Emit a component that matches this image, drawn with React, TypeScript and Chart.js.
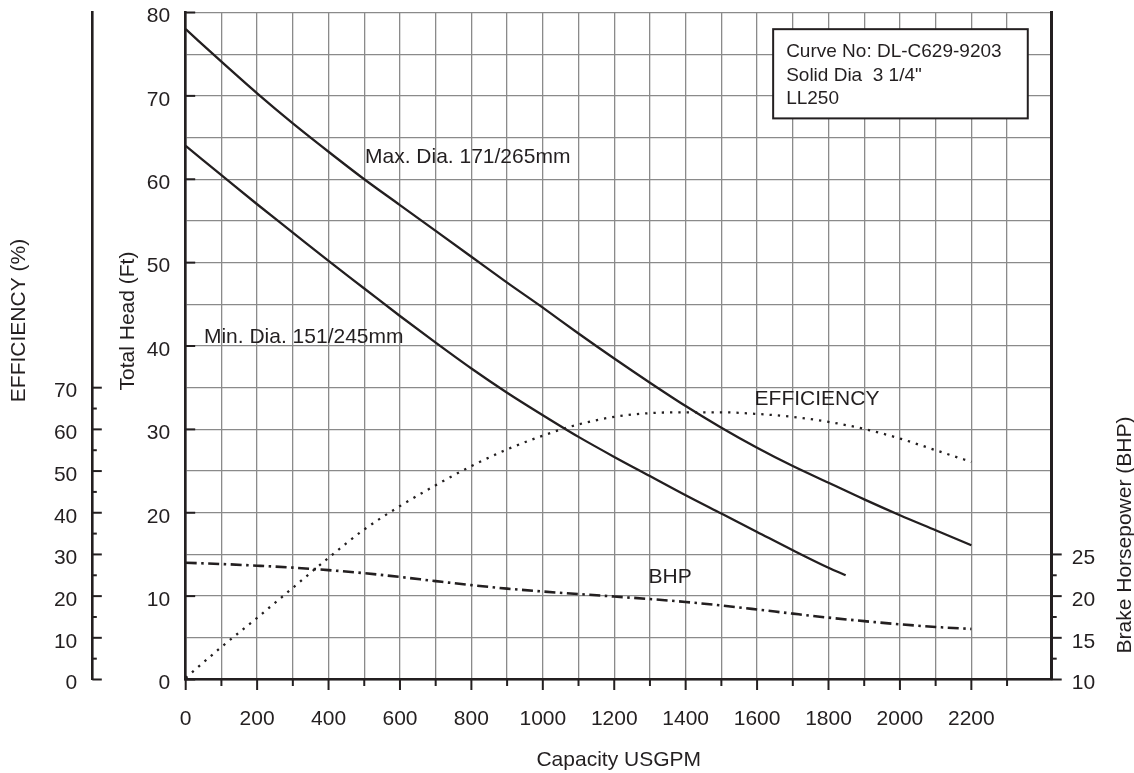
import React, { useEffect, useRef } from "react";
import { Chart, registerables } from "chart.js";

Chart.register(...registerables);

// ---------- data ----------
const capacity = [0, 100, 200, 300, 400, 500, 600, 700, 800, 900, 1000, 1100, 1200, 1300, 1400, 1500, 1600, 1700, 1800, 1900, 2000, 2100, 2200];
const maxDiaHead = [78.0, 74.1, 70.3, 66.7, 63.3, 60.0, 56.9, 53.8, 50.7, 47.6, 44.6, 41.5, 38.5, 35.6, 32.8, 30.2, 27.8, 25.6, 23.6, 21.6, 19.7, 17.9, 16.1];
const minDiaCapacity = [0, 100, 200, 300, 400, 500, 600, 700, 800, 900, 1000, 1100, 1200, 1300, 1400, 1500, 1600, 1700, 1800, 1848];
const minDiaHead = [64.0, 60.5, 57.0, 53.6, 50.2, 46.9, 43.6, 40.4, 37.3, 34.4, 31.7, 29.1, 26.7, 24.4, 22.1, 19.9, 17.7, 15.5, 13.4, 12.5];
const efficiencyPct = [0.4, 7.8, 14.8, 22.0, 29.2, 36.0, 41.6, 46.6, 51.2, 55.2, 58.5, 61.2, 63.0, 63.9, 64.1, 64.1, 63.7, 63.0, 61.8, 60.1, 57.8, 55.0, 52.2];
const bhpValues = [24.0, 23.85, 23.65, 23.42, 23.12, 22.75, 22.3, 21.8, 21.32, 20.9, 20.55, 20.25, 19.95, 19.65, 19.3, 18.88, 18.4, 17.9, 17.42, 17.0, 16.62, 16.3, 16.06];

const capacityLabels = [0, 200, 400, 600, 800, 1000, 1200, 1400, 1600, 1800, 2000, 2200];
const headLabels = [0, 10, 20, 30, 40, 50, 60, 70, 80];
const efficiencyLabels = [0, 10, 20, 30, 40, 50, 60, 70];
const bhpLabels = [10, 15, 20, 25];

const curveNotes = [
  { text: "Max. Dia. 171/265mm", x: 502, y: 62.0 },
  { text: "Min. Dia. 151/245mm", x: 51, y: 40.4 },
  { text: "EFFICIENCY", x: 1593, y: 32.9 },
  { text: "BHP", x: 1296, y: 11.6 },
];
const infoLines = ["Curve No: DL-C629-9203", "Solid Dia  3 1/4\"", "LL250"];

// ---------- styling ----------
const FONT = '"Liberation Sans", Arial, Helvetica, sans-serif';
const INK = "#231f20";
const GRID = "#8a8a8a";

const W = 1134;
const H = 773;

function zeroPad(scale: any) {
  scale.paddingTop = 0;
  scale.paddingBottom = 0;
  scale.paddingLeft = 0;
  scale.paddingRight = 0;
}

const decor = {
  id: "decor",
  afterDraw(chart: any) {
    const ctx = chart.ctx as CanvasRenderingContext2D;
    const { x, y, eff, bhp } = chart.scales;
    const area = chart.chartArea;
    const seg = (x1: number, y1: number, x2: number, y2: number) => {
      ctx.beginPath();
      ctx.moveTo(x1, y1);
      ctx.lineTo(x2, y2);
      ctx.stroke();
    };
    ctx.save();
    ctx.strokeStyle = INK;
    ctx.lineWidth = 2;
    for (const v of headLabels) {
      const py = y.getPixelForValue(v);
      seg(area.left, py, area.left + 9.5, py);
    }
    for (let v = 0; v <= 70; v += 5) {
      const py = eff.getPixelForValue(v);
      seg(eff.right, py, eff.right + (v % 10 === 0 ? 9.5 : 4.5), py);
    }
    for (let v = 10; v <= 25; v += 2.5) {
      const py = bhp.getPixelForValue(v);
      seg(bhp.left, py, bhp.left + (v % 5 === 0 ? 10 : 5), py);
    }
    for (let v = 0; v <= 2300; v += 100) {
      const px = x.getPixelForValue(v);
      seg(px, area.bottom, px, area.bottom + (v % 200 === 0 ? 10.5 : 6.5));
    }

    ctx.fillStyle = INK;
    ctx.font = `21px ${FONT}`;
    ctx.textAlign = "left";
    ctx.textBaseline = "alphabetic";
    for (const n of curveNotes) {
      ctx.fillText(n.text, x.getPixelForValue(n.x), y.getPixelForValue(n.y));
    }

    const bx1 = x.getPixelForValue(1645);
    const bx2 = x.getPixelForValue(2358);
    const by1 = y.getPixelForValue(78.0);
    const by2 = y.getPixelForValue(67.3);
    ctx.fillStyle = "#ffffff";
    ctx.fillRect(bx1, by1, bx2 - bx1, by2 - by1);
    ctx.lineWidth = 2;
    ctx.strokeStyle = INK;
    ctx.strokeRect(bx1, by1, bx2 - bx1, by2 - by1);
    ctx.fillStyle = INK;
    ctx.font = `19px ${FONT}`;
    infoLines.forEach((t, i) => {
      ctx.fillText(t, bx1 + 13, by1 + 28 + i * 23.6);
    });

    ctx.font = `21px ${FONT}`;
    ctx.textAlign = "center";
    ctx.textBaseline = "middle";
    const vtitle = (t: string, cx: number, cy: number) => {
      ctx.save();
      ctx.translate(cx, cy);
      ctx.rotate(-Math.PI / 2);
      ctx.fillText(t, 0, 0);
      ctx.restore();
    };
    vtitle("EFFICIENCY (%)", 19, 320.5);
    vtitle("Total Head (Ft)", 128.5, 321);
    vtitle("Brake Horsepower (BHP)", 1125, 535);
    ctx.fillText("Capacity USGPM", (area.left + area.right) / 2, 760);
    ctx.restore();
  },
};

export default function App() {
  const ref = useRef<HTMLCanvasElement | null>(null);

  useEffect(() => {
    document.body.style.margin = "0";
    const canvas = ref.current;
    if (!canvas) return;
    const tickFont = { family: FONT, size: 21 };
    const line = (data: number[], xs: number[]) => data.map((v, i) => ({ x: xs[i], y: v }));

    const chart = new Chart(canvas, {
      type: "line",
      data: {
        datasets: [
          {
            label: "Max. Dia.",
            data: line(maxDiaHead, capacity),
            yAxisID: "y",
            borderColor: INK,
            borderWidth: 2.3,
            pointRadius: 0,
            cubicInterpolationMode: "monotone",
            fill: false,
          },
          {
            label: "Min. Dia.",
            data: line(minDiaHead, minDiaCapacity),
            yAxisID: "y",
            borderColor: INK,
            borderWidth: 2.3,
            pointRadius: 0,
            cubicInterpolationMode: "monotone",
            fill: false,
          },
          {
            label: "Efficiency",
            data: line(efficiencyPct, capacity),
            yAxisID: "eff",
            borderColor: INK,
            borderWidth: 2.3,
            borderDash: [2.3, 6],
            pointRadius: 0,
            cubicInterpolationMode: "monotone",
            fill: false,
          },
          {
            label: "BHP",
            data: line(bhpValues, capacity),
            yAxisID: "bhp",
            borderColor: INK,
            borderWidth: 2.6,
            borderDash: [11, 4.5, 2.5, 4.5],
            pointRadius: 0,
            cubicInterpolationMode: "monotone",
            fill: false,
          },
        ],
      },
      options: {
        animation: false,
        responsive: false,
        maintainAspectRatio: false,
        layout: { padding: { top: 12.5, left: 0, right: 0, bottom: 0 } },
        plugins: { legend: { display: false }, tooltip: { enabled: false }, title: { display: false } },
        scales: {
          x: {
            type: "linear",
            position: "bottom",
            min: 0,
            max: 2425,
            afterFit: (s: any) => {
              s.height = H - 679.5;
              zeroPad(s);
            },
            ticks: {
              stepSize: 100,
              autoSkip: false,
              maxRotation: 0,
              minRotation: 0,
              padding: 27,
              color: INK,
              font: tickFont,
              callback: (v: any) => (v > 2300 ? null : capacityLabels.includes(v) ? String(v) : ""),
            },
            grid: {
              color: (c: any) => (c.tick && c.tick.value > 2300 ? "rgba(0,0,0,0)" : GRID),
              lineWidth: 1.3,
              drawTicks: false,
            },
            border: { display: true, color: INK, width: 2.5 },
          },
          y: {
            type: "linear",
            position: "left",
            weight: 0,
            min: 0,
            max: 80,
            afterFit: (s: any) => {
              s.width = 185.7 - 92.3;
              zeroPad(s);
            },
            ticks: {
              stepSize: 5,
              padding: 15.5,
              labelOffset: 4,
              color: INK,
              font: tickFont,
              callback: (v: any) => (headLabels.includes(v) ? String(v) : ""),
            },
            grid: { color: GRID, lineWidth: 1.3, drawTicks: false },
            border: { display: true, color: INK, width: 2.6 },
          },
          eff: {
            type: "linear",
            position: "left",
            weight: 10,
            min: 0,
            max: 160,
            afterFit: (s: any) => {
              s.width = 92.3;
              zeroPad(s);
            },
            ticks: {
              stepSize: 10,
              padding: 15,
              labelOffset: 4,
              color: INK,
              font: tickFont,
              callback: (v: any) => (efficiencyLabels.includes(v) ? String(v) : null),
            },
            grid: { drawOnChartArea: false, drawTicks: false },
            border: { display: true, color: INK, width: 2.6 },
          },
          bhp: {
            type: "linear",
            position: "right",
            min: 10,
            max: 90,
            afterFit: (s: any) => {
              s.width = W - 1051.7;
              zeroPad(s);
            },
            ticks: {
              stepSize: 5,
              padding: 20,
              labelOffset: 4,
              color: INK,
              font: tickFont,
              callback: (v: any) => (bhpLabels.includes(v) ? String(v) : null),
            },
            grid: { drawOnChartArea: false, drawTicks: false },
            border: { display: true, color: INK, width: 3 },
          },
        },
      },
      plugins: [decor],
    } as any);

    return () => chart.destroy();
  }, []);

  return (
    <div style={{ position: "absolute", left: 0, top: 0, width: W, height: H, background: "#fff" }}>
      <canvas ref={ref} width={W} height={H} style={{ width: W, height: H, display: "block" }} />
    </div>
  );
}
